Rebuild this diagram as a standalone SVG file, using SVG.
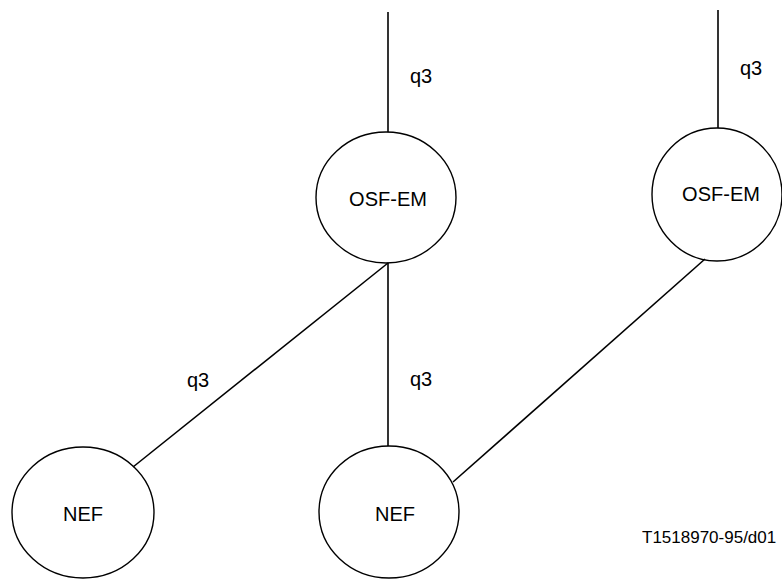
<svg xmlns="http://www.w3.org/2000/svg" width="782" height="579" viewBox="0 0 782 579">
<style>
.node ellipse{fill:none;stroke:#000;stroke-width:1.4}
.conn line{stroke:#000;stroke-width:1.6}
text{font-family:"Liberation Sans",Arial,sans-serif;font-size:20px;fill:#000}
.c{text-anchor:middle}
.foot{font-size:17px}
</style>
<rect width="782" height="579" fill="#fff"/>
<g id="connectors" class="conn">
<line x1="388" y1="12" x2="388" y2="132" stroke-width="2"/>
<line x1="718" y1="10" x2="718" y2="128" stroke-width="2"/>
<line x1="388" y1="263" x2="388" y2="446" stroke-width="2"/>
<line x1="388" y1="263" x2="133" y2="467"/>
<line x1="705" y1="259" x2="453" y2="482"/>
</g>
<g id="osf-em-1" class="node"><ellipse cx="386" cy="197.5" rx="70" ry="65.5"/><text class="c" x="388" y="206">OSF-EM</text></g>
<g id="osf-em-2" class="node"><ellipse cx="717" cy="194.5" rx="65" ry="66.5"/><text class="c" x="721" y="201">OSF-EM</text></g>
<g id="nef-1" class="node"><ellipse cx="83" cy="512.5" rx="71" ry="65.5"/><text class="c" x="83" y="521">NEF</text></g>
<g id="nef-2" class="node"><ellipse cx="389" cy="512" rx="70" ry="66"/><text class="c" x="395" y="521">NEF</text></g>
<g id="labels">
<text x="410" y="83">q3</text>
<text x="740" y="75">q3</text>
<text x="187" y="387">q3</text>
<text x="410" y="386">q3</text>
<text class="foot" x="642" y="543">T1518970-95/d01</text>
</g>
</svg>
